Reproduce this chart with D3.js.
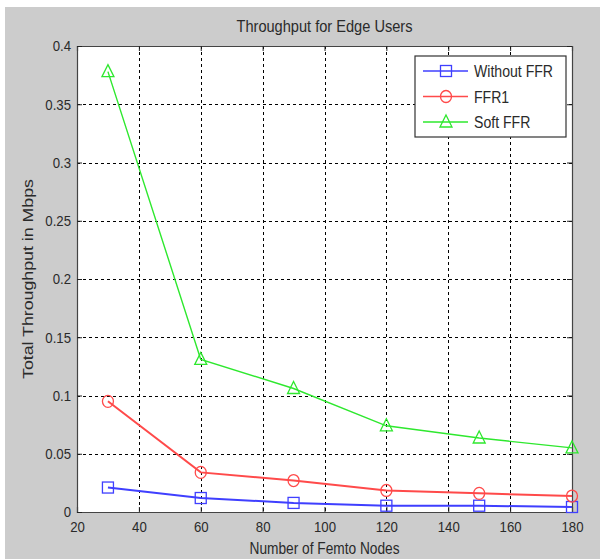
<!DOCTYPE html>
<html>
<head>
<meta charset="utf-8">
<script src="https://cdn.jsdelivr.net/npm/d3@7"></script>
<style>
  body { margin: 0; background: #fff; }
  svg text { font-family: "Liberation Sans", Arial, sans-serif; fill: #2a2a2a; }
</style>
</head>
<body>
<svg id="chart" width="612" height="559"></svg>
<script>
// data
const nodes = [30, 60, 90, 120, 150, 180];
const withoutFFR = [0.021, 0.012, 0.0078, 0.0054, 0.0054, 0.0043];
const ffr1 = [0.095, 0.034, 0.027, 0.0185, 0.016, 0.0137];
const softFFR = [0.378, 0.131, 0.106, 0.074, 0.0635, 0.055];
const xTicks = [20, 40, 60, 80, 100, 120, 140, 160, 180];
const yTicks = [0, 0.05, 0.1, 0.15, 0.2, 0.25, 0.3, 0.35, 0.4];

const series = [
  {name: 'Without FFR', values: withoutFFR, color: '#3f3fff', marker: 'square'},
  {name: 'FFR1', values: ffr1, color: '#ff4a4a', marker: 'circle'},
  {name: 'Soft FFR', values: softFFR, color: '#2ee82e', marker: 'triangle'}
];

const svg = d3.select('#chart');
const margin = {left: 77, right: 572, top: 46, bottom: 512};

svg.append('rect')
    .attr('x', 5).attr('y', 7)
    .attr('width', 595).attr('height', 552)
    .attr('fill', '#cccccc');

const x = d3.scaleLinear().domain([20, 180]).range([margin.left, margin.right]);
const y = d3.scaleLinear().domain([0, 0.4]).range([margin.bottom, margin.top]);

svg.append('rect')
    .attr('x', margin.left).attr('y', margin.top)
    .attr('width', margin.right - margin.left)
    .attr('height', margin.bottom - margin.top)
    .attr('fill', '#fff');

// dotted grid
const grid = svg.append('g')
    .attr('stroke', '#000')
    .attr('stroke-width', 1)
    .attr('stroke-dasharray', '3,3');
grid.selectAll('.gx')
    .data(xTicks.slice(1, -1))
  .enter().append('line')
    .attr('x1', d => Math.round(x(d)) + 0.5).attr('x2', d => Math.round(x(d)) + 0.5)
    .attr('y1', margin.top).attr('y2', margin.bottom);
grid.selectAll('.gy')
    .data(yTicks.slice(1, -1))
  .enter().append('line')
    .attr('y1', d => Math.round(y(d)) + 0.5).attr('y2', d => Math.round(y(d)) + 0.5)
    .attr('x1', margin.left).attr('x2', margin.right);

// axes with inward ticks
const xAxis = d3.axisBottom(x).tickValues(xTicks).tickSize(-5).tickPadding(9);
const xAxisTop = d3.axisTop(x).tickValues(xTicks).tickSize(-5).tickFormat('');
const yAxis = d3.axisLeft(y).tickValues(yTicks).tickSize(-5).tickPadding(6)
    .tickFormat(d => d3.format('')(+d.toFixed(2)));
const yAxisRight = d3.axisRight(y).tickValues(yTicks).tickSize(-5).tickFormat('');

function styleAxis(g) {
  g.select('.domain').attr('stroke', '#444').attr('stroke-width', 1.2);
  g.selectAll('.tick line').attr('stroke', '#222');
  g.selectAll('.tick text')
      .style('font-size', '15px')
      .style('fill', '#2a2a2a');
}

function condense(sel) {
  // MATLAB's narrow look: squeeze glyphs horizontally around the anchor
  sel.each(function() {
    const t = d3.select(this);
    const len = this.getComputedTextLength();
    t.attr('textLength', len * 0.88).attr('lengthAdjust', 'spacingAndGlyphs');
  });
}

svg.append('g').attr('transform', `translate(0,${margin.bottom})`).call(xAxis).call(styleAxis)
    .selectAll('.tick text').call(condense);
svg.append('g').attr('transform', `translate(0,${margin.top})`).call(xAxisTop).call(styleAxis);
svg.append('g').attr('transform', `translate(${margin.left},0)`).call(yAxis).call(styleAxis)
    .selectAll('.tick text').call(condense);
svg.append('g').attr('transform', `translate(${margin.right},0)`).call(yAxisRight).call(styleAxis);

// lines and markers
const line = d3.line()
    .x((d, i) => x(nodes[i]))
    .y(d => y(d));

function drawMarker(g, type, color) {
  if (type === 'square') {
    g.append('rect').attr('x', -5.5).attr('y', -5.5).attr('width', 11).attr('height', 11);
  } else if (type === 'circle') {
    g.append('ellipse').attr('rx', 5.5).attr('ry', 6);
  } else {
    g.append('path').attr('d', 'M0,-7L6,5L-6,5Z');
  }
  g.selectAll('*').attr('fill', 'none').attr('stroke', color).attr('stroke-width', 1.3);
}

series.forEach(s => {
  svg.append('path')
      .attr('fill', 'none')
      .attr('stroke', s.color)
      .attr('stroke-width', s.marker === 'triangle' ? 1.4 : 2)
      .attr('d', line(s.values));
  s.values.forEach((v, i) => {
    const g = svg.append('g').attr('transform', `translate(${x(nodes[i])},${y(v)})`);
    drawMarker(g, s.marker, s.color);
  });
});

// legend
const legend = svg.append('g').attr('transform', 'translate(415,56)');
legend.append('rect')
    .attr('width', 151).attr('height', 81)
    .attr('fill', '#fff').attr('stroke', '#333').attr('stroke-width', 1.2);
series.forEach((s, i) => {
  const yy = 15 + i * 25.5;
  legend.append('line')
      .attr('x1', 8).attr('x2', 53).attr('y1', yy).attr('y2', yy)
      .attr('stroke', s.color).attr('stroke-width', 1.6);
  const g = legend.append('g').attr('transform', `translate(31,${yy})`);
  drawMarker(g, s.marker, s.color);
  legend.append('text')
      .attr('x', 59).attr('y', yy + 6)
      .style('font-size', '16px')
      .text(s.name)
      .call(condense);
});

// titles
svg.append('text')
    .attr('x', (margin.left + margin.right) / 2).attr('y', 32)
    .attr('text-anchor', 'middle')
    .style('font-size', '16px')
    .attr('textLength', 176).attr('lengthAdjust', 'spacingAndGlyphs')
    .text('Throughput for Edge Users');

svg.append('text')
    .attr('x', (margin.left + margin.right) / 2).attr('y', 554)
    .attr('text-anchor', 'middle')
    .style('font-size', '16px')
    .attr('textLength', 150).attr('lengthAdjust', 'spacingAndGlyphs')
    .text('Number of Femto Nodes');

svg.append('text')
    .attr('transform', `translate(33,${(margin.top + margin.bottom) / 2}) rotate(-90)`)
    .attr('text-anchor', 'middle')
    .style('font-size', '15px')
    .attr('textLength', 200).attr('lengthAdjust', 'spacingAndGlyphs')
    .text('Total Throughput in Mbps');
</script>
</body>
</html>
